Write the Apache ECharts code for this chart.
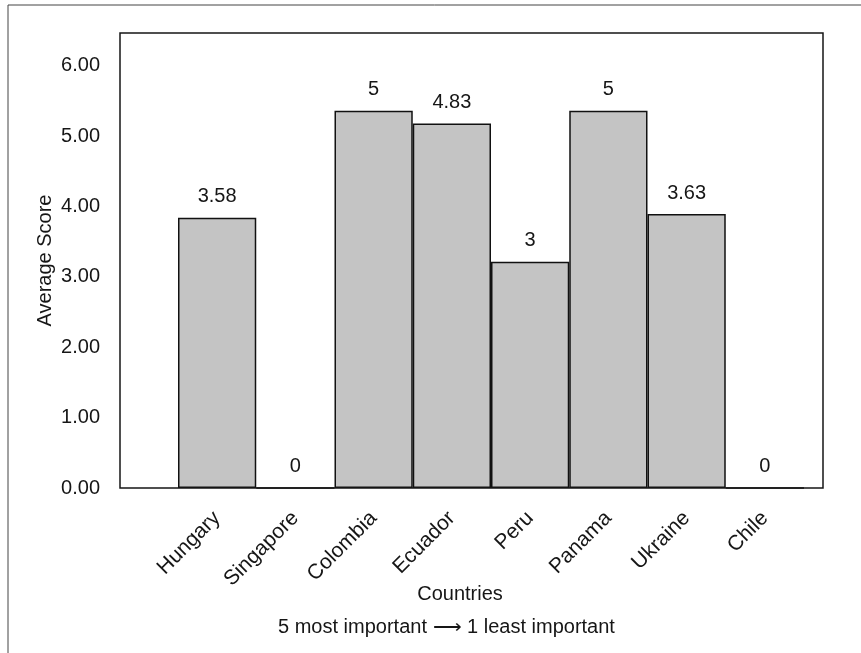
<!DOCTYPE html>
<html>
<head>
<meta charset="utf-8">
<script src="https://cdn.jsdelivr.net/npm/echarts@6/dist/echarts.min.js"></script>
<style>
html,body{margin:0;padding:0;background:#fff;}
#chart{width:861px;height:653px;}
</style>
</head>
<body>
<div id="chart"></div>
<script>
// Data
var categories = ['Hungary', 'Singapore', 'Colombia', 'Ecuador', 'Peru', 'Panama', 'Ukraine', 'Chile'];
var scores = [3.58, 0, 5, 4.83, 3, 5, 3.63, 0];
// Y tick labels as printed; in the original they are spaced 0.933 score units apart
var tickLabels = ['0.00', '1.00', '2.00', '3.00', '4.00', '5.00', '6.00'];
var tickStep = 0.933;
var yMax = 6.03;
var xTitle = 'Countries';
var yTitle = 'Average Score';
var note = '5 most important \u27F6 1 least important';

var FONT = "'Liberation Sans', Arial, Helvetica, sans-serif";
var TXT = '#161616';

var chart = echarts.init(document.getElementById('chart'));
chart.setOption({
  animation: false,
  backgroundColor: '#ffffff',
  grid: { left: 178, right: 57, top: 33, bottom: 165, containLabel: false },
  xAxis: {
    type: 'category',
    data: categories,
    boundaryGap: true,
    axisLine: { show: false },
    axisTick: { show: false },
    axisLabel: { rotate: 45, margin: 27, fontSize: 21, fontFamily: FONT, color: TXT, interval: 0 },
    name: xTitle,
    nameLocation: 'middle',
    nameGap: 96,
    nameMoveOverlap: false,
    nameTextStyle: { fontSize: 20, fontFamily: FONT, color: TXT, padding: [0, 62, 0, 0] }
  },
  yAxis: {
    type: 'value',
    min: 0,
    max: yMax,
    interval: tickStep,
    offset: 58,
    axisLine: { show: false },
    axisTick: { show: false },
    splitLine: { show: false },
    axisLabel: {
      margin: 20, fontSize: 20, fontFamily: FONT, color: TXT, showMaxLabel: false,
      formatter: function (v) {
        var i = Math.round(v / tickStep);
        if (Math.abs(v - i * tickStep) < 1e-6 && i < tickLabels.length) return tickLabels[i];
        return '';
      }
    },
    name: yTitle,
    nameLocation: 'middle',
    nameGap: 65,
    nameMoveOverlap: false,
    nameTextStyle: { fontSize: 20, fontFamily: FONT, color: TXT }
  },
  series: [{
    type: 'bar',
    data: scores,
    barCategoryGap: '0%',
    itemStyle: { color: '#c4c4c4', borderColor: '#111', borderWidth: 1.5 },
    label: {
      show: true, position: 'top', distance: 11,
      fontSize: 20, fontFamily: FONT, color: TXT,
      formatter: function (p) { return String(p.value); }
    }
  }],
  graphic: [
    { type: 'rect', z: 100, shape: { x: 120, y: 33, width: 703, height: 455 },
      style: { fill: 'none', stroke: '#161616', lineWidth: 1.5 } },
    { type: 'polyline', z: 100, shape: { points: [[8, 653], [8, 5], [861, 5]] },
      style: { fill: 'none', stroke: '#444', lineWidth: 1 } },
    { type: 'text', z: 100, left: 278, top: 617,
      style: { text: note, fontSize: 20, fontFamily: FONT, fill: TXT } }
  ]
});
</script>
</body>
</html>
